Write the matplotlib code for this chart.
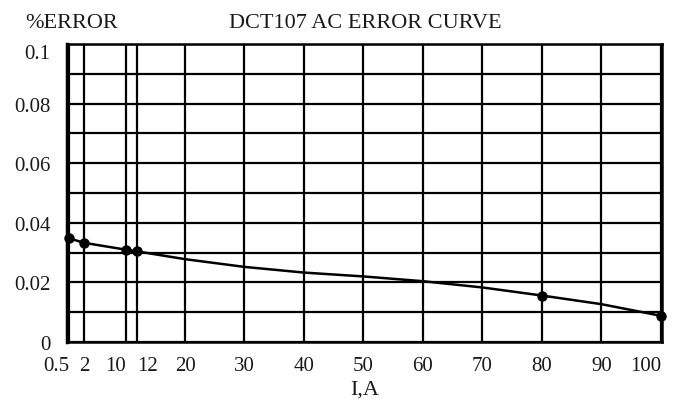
import numpy as np
import matplotlib
matplotlib.use("Agg")
import matplotlib.pyplot as plt

plt.rcParams['font.family'] = ['Liberation Serif', 'DejaVu Serif']

# Tick values / labels
x_ticks = [0.5, 2, 10, 12, 20, 30, 40, 50, 60, 70, 80, 90, 100]
x_tick_labels = ["0.5", "2", "10", "12", "20", "30", "40", "50", "60", "70", "80", "90", "100"]
y_ticks = [0, 0.02, 0.04, 0.06, 0.08, 0.1]
y_tick_labels = ["0", "0.02", "0.04", "0.06", "0.08", "0.1"]

# Smooth error curve
curve_x = [0.5, 2, 10, 12, 20, 30, 40, 50, 60, 70, 80, 90, 100]
curve_y = [0.0348, 0.0333, 0.0310, 0.0304, 0.0278, 0.0252, 0.0233, 0.0220, 0.0204, 0.0183, 0.0156, 0.0127, 0.0088]

# Measured points (markers)
point_x = [0.5, 2, 10, 12, 80, 100]
point_y = [0.0348, 0.0333, 0.0310, 0.0304, 0.0156, 0.0088]

# Non-uniform axis: the "2" division is stretched as in the original drawing
scale_knots = [-10, 0.5, 2, 10, 200]
scale_pos = [-10, 0.5, 3.0, 10, 200]

def fwd(v):
    return np.interp(v, scale_knots, scale_pos)

def inv(v):
    return np.interp(v, scale_pos, scale_knots)

ink = '#1a1a1a'

fig = plt.figure(figsize=(6.8, 4.02), dpi=100)
ax = fig.add_axes([67/680, 1-343/402, (662-67)/680, (343-45)/402])
ax.set_xscale('function', functions=(fwd, inv))
ax.set_xlim(0.16, 100.2)
ax.set_ylim(0, 0.0995)

ax.set_xticks(x_ticks)
ax.set_xticklabels(x_tick_labels)
ax.set_yticks(y_ticks)
ax.set_yticklabels(y_tick_labels)
ax.set_yticks(np.arange(0.01, 0.1, 0.02), minor=True)
ax.tick_params(axis='both', which='both', length=0, labelsize=15, labelcolor=ink)
ax.tick_params(axis='y', pad=12)
ax.tick_params(axis='x', pad=10)

ax.grid(True, which='both', color='black', linewidth=1.6)
ax.set_axisbelow(True)
for s in ax.spines.values():
    s.set_linewidth(1.8)
    s.set_color('black')
ax.spines['left'].set_linewidth(2.5)

ax.plot(curve_x, curve_y, color='black', linewidth=1.8, zorder=3)
ax.plot(point_x, point_y, 'o', color='black', markersize=6.5, zorder=4, clip_on=False)

for lbl, v in zip(ax.get_xticklabels(), x_ticks):
    if v in (0.5, 10, 100):
        lbl.set_ha('right')
    elif v == 12:
        lbl.set_ha('left')
for lbl, v in zip(ax.get_yticklabels(), y_ticks):
    if v == 0.1:
        lbl.set_va('top')

ax.set_xlabel("I,A", fontsize=16, labelpad=3, color=ink)
fig.text(25/680, 1-23/402, "%ERROR", fontsize=16, va='center', ha='left', color=ink)
fig.text(365/680, 1-23/402, "DCT107 AC ERROR CURVE", fontsize=16, va='center', ha='center', color=ink)

fig.savefig("out.png", dpi=100)
